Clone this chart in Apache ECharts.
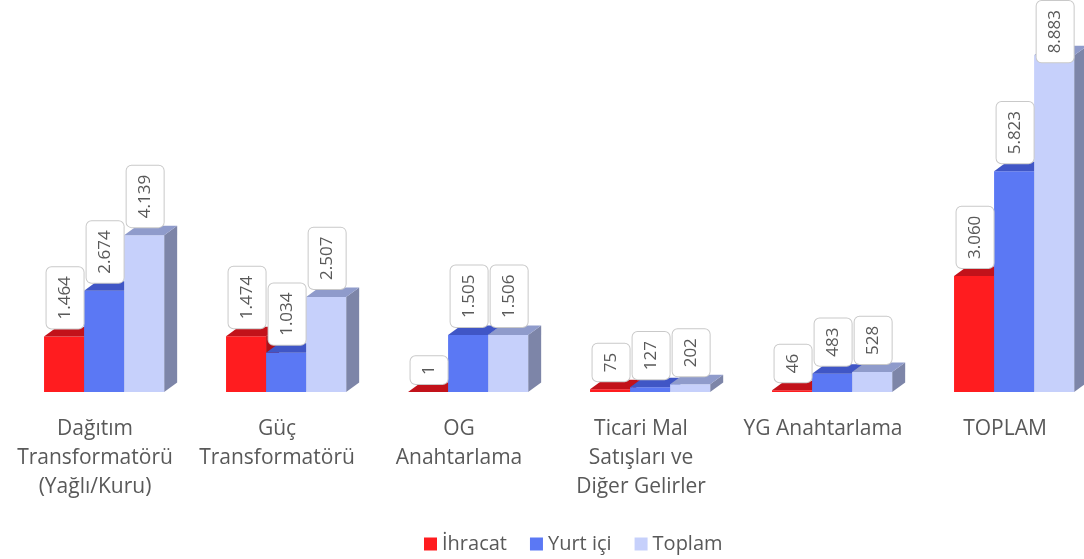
<!DOCTYPE html>
<html>
<head>
<meta charset="utf-8">
<script src="https://cdn.jsdelivr.net/npm/echarts@6/dist/echarts.min.js"></script>
<style>
  html, body { margin: 0; padding: 0; background: #ffffff; }
  #chart { width: 1084px; height: 559px; }
</style>
</head>
<body>
<div id="chart"></div>
<script>
// Categories (line breaks as printed under the axis)
const categories = [
  'Dağıtım\nTransformatörü\n(Yağlı/Kuru)',
  'Güç\nTransformatörü',
  'OG\nAnahtarlama',
  'Ticari Mal\nSatışları ve\nDiğer Gelirler',
  'YG Anahtarlama',
  'TOPLAM'
];
const seriesNames = ['İhracat', 'Yurt içi', 'Toplam'];
const ihracat = [1464, 1474, 1, 75, 46, 3060];
const yurtIci = [2674, 1034, 1505, 127, 483, 5823];
const toplam  = [4139, 2507, 1506, 202, 528, 8883];
const seriesValues = [ihracat, yurtIci, toplam];

// Face colours per series: front, top, side
const palette = [
  { front: '#ff1c1f', top: '#c2121a', side: '#b01018' },
  { front: '#5b78f4', top: '#4056c6', side: '#4256b8' },
  { front: '#c6d0fb', top: '#8f9bcb', side: '#7d85a8' }
];

const FONT = '"Open Sans", "Noto Sans", sans-serif';
const TEXT_COLOR = '#595959';
const LABEL_SIZE = 17;
const DEPTH_X = 13;
const DEPTH_Y = 9.5;

const fmt = v => String(v).replace(/\B(?=(\d{3})+(?!\d))/g, '.');

const measureCtx = document.createElement('canvas').getContext('2d');
measureCtx.font = LABEL_SIZE + 'px "Open Sans"';
const textWidth = s => measureCtx.measureText(s).width;

function barGeometry(api, cat, val, k) {
  const base = api.coord([cat, 0]);
  const top = api.coord([cat, val]);
  const band = api.size([1, 0])[0];
  const bw = band * 0.22;
  const x0 = base[0] + band * 0.05 - 1.5 * bw + k * bw;
  return { x0, bw, ty: top[1], by: base[1] };
}

function makeBarSeries(k) {
  return {
    type: 'custom',
    name: seriesNames[k],
    itemStyle: { color: palette[k].front },
    data: seriesValues[k].map((v, i) => [i, v]),
    encode: { x: 0, y: 1 },
    renderItem: function (params, api) {
      const cat = api.value(0);
      const val = api.value(1);
      const g = barGeometry(api, cat, val, k);
      const c = palette[k];
      const x1 = g.x0 + g.bw;
      return {
        type: 'group',
        children: [
          {
            type: 'polygon',
            shape: { points: [[x1, g.ty], [x1 + DEPTH_X, g.ty - DEPTH_Y], [x1 + DEPTH_X, g.by - DEPTH_Y], [x1, g.by]] },
            style: { fill: c.side }
          },
          {
            type: 'rect',
            shape: { x: g.x0, y: g.ty, width: g.bw, height: g.by - g.ty },
            style: { fill: c.front }
          },
          {
            type: 'polygon',
            shape: { points: [[g.x0, g.ty], [g.x0 + DEPTH_X, g.ty - DEPTH_Y], [x1 + DEPTH_X, g.ty - DEPTH_Y], [x1, g.ty]] },
            style: { fill: c.top }
          }
        ]
      };
    }
  };
}

// Value labels for every bar, drawn above all bars
const labelData = [];
seriesValues.forEach((arr, k) => arr.forEach((v, i) => labelData.push([i, v, k])));

const labelSeries = {
  type: 'custom',
  name: 'labels',
  z: 10,
  silent: true,
  data: labelData,
  encode: { x: 0, y: 1 },
  renderItem: function (params, api) {
    const cat = api.value(0);
    const val = api.value(1);
    const k = api.value(2);
    const g = barGeometry(api, cat, val, k);
    const text = fmt(val);
    const boxLen = textWidth(text) + 18;
    const y = Math.max(g.ty - 8, boxLen + 1);
    return {
      type: 'text',
      x: g.x0 + g.bw / 2 + 1,
      y: y,
      rotation: Math.PI / 2,
      style: {
        text: text,
        fontSize: LABEL_SIZE,
        fontFamily: FONT,
        fill: TEXT_COLOR,
        align: 'left',
        verticalAlign: 'middle',
        lineHeight: 21,
        backgroundColor: '#ffffff',
        borderColor: '#c9c9c9',
        borderWidth: 1,
        borderRadius: 5,
        padding: [8, 9, 8, 9]
      }
    };
  }
};

const chart = echarts.init(document.getElementById('chart'), null, { renderer: 'canvas' });
chart.setOption({
  animation: false,
  backgroundColor: '#ffffff',
  grid: { left: 4, width: 1092, top: 13, bottom: 167, containLabel: false, outerBoundsMode: 'none' },
  xAxis: {
    type: 'category',
    data: categories,
    axisLine: { show: false },
    axisTick: { show: false },
    splitLine: { show: false },
    axisLabel: {
      interval: 0,
      margin: 23,
      fontSize: 21,
      lineHeight: 29,
      color: TEXT_COLOR,
      fontFamily: FONT
    }
  },
  yAxis: {
    type: 'value',
    min: 0,
    max: 10000,
    show: false,
    splitLine: { show: false }
  },
  legend: {
    data: seriesNames.map((n, k) => ({ name: n, icon: 'rect', itemStyle: { color: palette[k].front } })),
    left: 419,
    top: 529,
    itemWidth: 13,
    itemHeight: 13,
    itemGap: 23,
    textStyle: { fontSize: 20, color: TEXT_COLOR, fontFamily: FONT }
  },
  series: [makeBarSeries(0), makeBarSeries(1), makeBarSeries(2), labelSeries]
});
</script>
</body>
</html>
